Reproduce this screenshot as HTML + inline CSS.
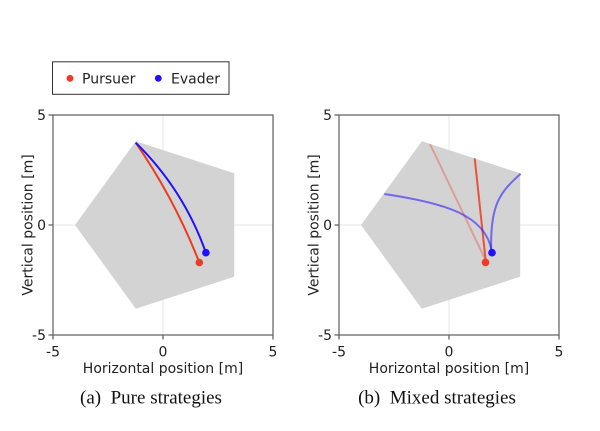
<!DOCTYPE html>
<html><head><meta charset="utf-8"><style>
html,body{margin:0;padding:0;background:#fff;}
svg{display:block;}
.t{font-family:"DejaVu Sans","Liberation Sans",sans-serif;font-size:14px;fill:#222;}
.c{font-family:"Liberation Serif",serif;font-size:19px;fill:#111;}
</style></head><body>
<svg width="600" height="431" viewBox="0 0 600 431" xmlns="http://www.w3.org/2000/svg">
<rect width="600" height="431" fill="#fff"/>
<!-- Legend -->
<rect x="52.5" y="61.8" width="176.5" height="32.5" fill="#fff" stroke="#333" stroke-width="1"/>
<circle cx="70" cy="78.3" r="3.4" fill="#ec3b24"/>
<text class="t" x="82" y="83.3">Pursuer</text>
<circle cx="158.3" cy="78.3" r="3.4" fill="#2010ff"/>
<text class="t" x="171" y="83.3">Evader</text>

<!-- Left plot -->
<g>
<line x1="163" y1="115" x2="163" y2="335" stroke="#e6e6e6" stroke-width="1"/>
<line x1="53" y1="225" x2="273" y2="225" stroke="#e6e6e6" stroke-width="1"/>
<polygon points="75,225 135.8,141.3 234.2,173.3 234.2,276.7 135.8,308.7" fill="#d3d3d3"/>
<path d="M135.7,142.7 Q174.5,198.9 199.3,262.5" fill="none" stroke="#ec3b24" stroke-width="2"/>
<path d="M135.7,142.7 Q183.5,189.5 205.9,252.7" fill="none" stroke="#2010ff" stroke-width="2"/>
<circle cx="199.3" cy="262.5" r="3.8" fill="#ec3b24"/>
<circle cx="205.9" cy="252.7" r="3.8" fill="#2010ff"/>
<rect x="53" y="115" width="220" height="220" fill="none" stroke="#666" stroke-width="1.3"/>
<g stroke="#666" stroke-width="1.3">
<line x1="48.5" y1="115" x2="53" y2="115"/><line x1="48.5" y1="225" x2="53" y2="225"/><line x1="48.5" y1="335" x2="53" y2="335"/>
<line x1="53" y1="335" x2="53" y2="339.5"/><line x1="163" y1="335" x2="163" y2="339.5"/><line x1="273" y1="335" x2="273" y2="339.5"/>
</g>
<text class="t" x="46" y="120" text-anchor="end">5</text>
<text class="t" x="46" y="230" text-anchor="end">0</text>
<text class="t" x="46" y="340" text-anchor="end">-5</text>
<text class="t" x="53" y="356.5" text-anchor="middle">-5</text>
<text class="t" x="163" y="356.5" text-anchor="middle">0</text>
<text class="t" x="273" y="356.5" text-anchor="middle">5</text>
<text class="t" x="163" y="373" text-anchor="middle">Horizontal position [m]</text>
<text class="t" transform="translate(32.5,225) rotate(-90)" text-anchor="middle">Vertical position [m]</text>
<text class="c" x="151" y="403.3" text-anchor="middle">(a)&#160; Pure strategies</text>
</g>

<!-- Right plot -->
<g>
<line x1="449" y1="115" x2="449" y2="335" stroke="#e6e6e6" stroke-width="1"/>
<line x1="339" y1="225" x2="559" y2="225" stroke="#e6e6e6" stroke-width="1"/>
<polygon points="361,225 421.8,141.3 520.2,173.3 520.2,276.7 421.8,308.7" fill="#d3d3d3"/>
<line x1="430" y1="144" x2="485.5" y2="260" stroke="#ec3b24" stroke-opacity="0.35" stroke-width="2"/>
<line x1="474.7" y1="158.3" x2="485.5" y2="259" stroke="#ec3b24" stroke-opacity="0.85" stroke-width="2"/>
<path d="M384.3,194 C445,203 485,215 491.5,250" fill="none" stroke="#2010ff" stroke-opacity="0.55" stroke-width="2"/>
<path d="M520.7,173.7 C500,192 490,205 491.2,250" fill="none" stroke="#2010ff" stroke-opacity="0.55" stroke-width="2"/>
<circle cx="485.5" cy="262.4" r="3.8" fill="#ec3b24"/>
<circle cx="492" cy="252.7" r="3.8" fill="#2010ff"/>
<rect x="339" y="115" width="220" height="220" fill="none" stroke="#666" stroke-width="1.3"/>
<g stroke="#666" stroke-width="1.3">
<line x1="334.5" y1="115" x2="339" y2="115"/><line x1="334.5" y1="225" x2="339" y2="225"/><line x1="334.5" y1="335" x2="339" y2="335"/>
<line x1="339" y1="335" x2="339" y2="339.5"/><line x1="449" y1="335" x2="449" y2="339.5"/><line x1="559" y1="335" x2="559" y2="339.5"/>
</g>
<text class="t" x="332" y="120" text-anchor="end">5</text>
<text class="t" x="332" y="230" text-anchor="end">0</text>
<text class="t" x="332" y="340" text-anchor="end">-5</text>
<text class="t" x="339" y="356.5" text-anchor="middle">-5</text>
<text class="t" x="449" y="356.5" text-anchor="middle">0</text>
<text class="t" x="559" y="356.5" text-anchor="middle">5</text>
<text class="t" x="449" y="373" text-anchor="middle">Horizontal position [m]</text>
<text class="t" transform="translate(318.5,225) rotate(-90)" text-anchor="middle">Vertical position [m]</text>
<text class="c" x="437" y="403.3" text-anchor="middle">(b)&#160; Mixed strategies</text>
</g>
</svg>
</body></html>
